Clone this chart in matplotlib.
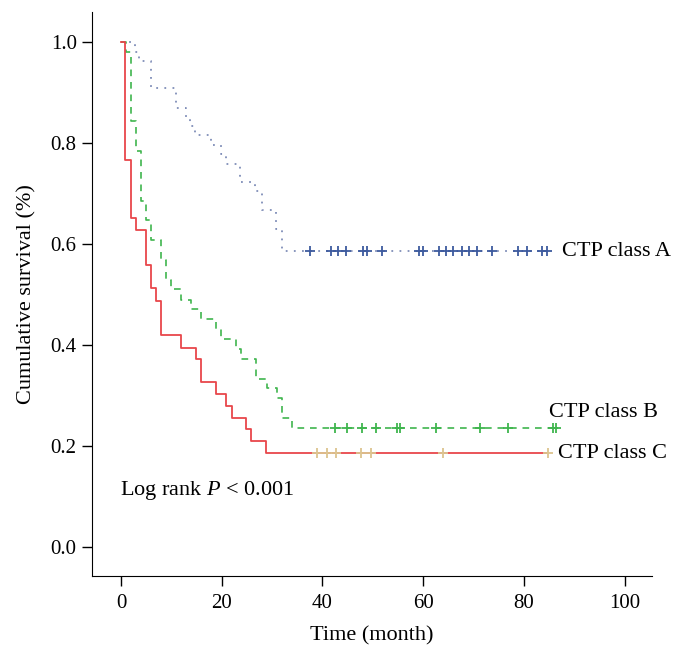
import matplotlib
matplotlib.use('Agg')
import matplotlib.pyplot as plt

plt.rcParams['font.family'] = ['Liberation Serif', 'DejaVu Serif']
plt.rcParams['mathtext.fontset'] = 'custom'
plt.rcParams['mathtext.it'] = 'Liberation Serif:italic'
plt.rcParams['mathtext.rm'] = 'Liberation Serif'

# Kaplan-Meier steps (time in months, survival)
a_time = [0, 2.8, 3.6, 5.9, 10.9, 12.9, 13.7, 14.7, 17.9, 19.8, 20.8, 23.6, 26.7, 27.9, 30.7, 31.9]
a_surv = [1.0, 0.981, 0.963, 0.909, 0.870, 0.852, 0.833, 0.815, 0.796, 0.778, 0.759, 0.722, 0.704, 0.667, 0.630, 0.586]
a_end = 84.7
a_cens = [37.6, 41.7, 43.1, 44.6, 48.1, 48.9, 51.9, 59.2, 60.0, 63.2, 64.6, 65.9,
          67.6, 69.1, 70.7, 73.7, 78.8, 80.5, 83.5, 84.5]

b_time = [0, 1.0, 1.9, 2.9, 3.9, 4.9, 5.9, 7.9, 8.9, 9.9, 11.9, 13.9, 15.9, 18.8, 19.8,
          22.8, 23.8, 26.9, 28.9, 30.9, 31.9, 33.9]
b_surv = [1.0, 0.980, 0.843, 0.784, 0.686, 0.647, 0.608, 0.569, 0.529, 0.510, 0.490, 0.471,
          0.451, 0.431, 0.412, 0.392, 0.373, 0.333, 0.314, 0.294, 0.255, 0.235]
b_end = 86.7
b_cens = [42.5, 44.8, 47.8, 50.7, 54.7, 55.4, 62.6, 71.2, 76.8, 85.8, 86.4]

c_time = [0, 0.8, 1.9, 2.9, 4.9, 5.9, 6.9, 7.9, 11.9, 14.9, 15.9, 18.8, 20.8, 22.0, 24.9, 25.9, 28.8]
c_surv = [1.0, 0.767, 0.651, 0.628, 0.558, 0.512, 0.488, 0.419, 0.395, 0.372, 0.326, 0.302,
          0.279, 0.256, 0.233, 0.209, 0.186]
c_end = 84.7
c_cens = [39.0, 40.9, 42.7, 47.6, 49.7, 63.9, 84.7]

xticks = [0, 20, 40, 60, 80, 100]
yticks = [0.0, 0.2, 0.4, 0.6, 0.8, 1.0]

blue = '#3d5a9e'
blue_line = '#7f8db8'
green = '#3fb54e'
red = '#e8464b'
tan = '#dcc48f'

fig = plt.figure(figsize=(6.8, 6.6), dpi=100)
ax = fig.add_axes([0.1353, 0.1277, 0.8235, 0.8545])


def km(ax, t, s, end, cens, color, ls, lw, mcolor):
    tt = list(t) + [end]
    ss = list(s) + [s[-1]]
    ax.step(tt, ss, where='post', color=color, linestyle=ls, linewidth=lw)
    ax.plot(cens, [s[-1]] * len(cens), linestyle='none', marker='+',
            markersize=7.5, markeredgewidth=1.3, color=mcolor)


km(ax, a_time, a_surv, a_end, a_cens, blue_line, (0, (1, 3.5)), 1.3, blue)
km(ax, b_time, b_surv, b_end, b_cens, green, (0, (4, 3.5)), 1.2, green)
km(ax, c_time, c_surv, c_end, c_cens, red, '-', 1.3, tan)

ax.text(87.5, a_surv[-1], 'CTP class A', fontsize=16, va='center', ha='left')
ax.text(84.9, 0.267, 'CTP class B', fontsize=16, va='center', ha='left')
ax.text(86.7, c_surv[-1], 'CTP class C', fontsize=16, va='center', ha='left')
ax.text(-0.2, 0.111, 'Log rank $\\mathit{P}$ < 0.001', fontsize=16, va='center', ha='left')

ax.set_xlim(-5.75, 105.4)
ax.set_ylim(-0.057, 1.06)
ax.set_xticks(xticks)
ax.set_yticks(yticks)
ax.set_yticklabels(['%.1f' % v for v in yticks])
ax.spines['top'].set_visible(False)
ax.spines['right'].set_visible(False)
ax.tick_params(direction='out', length=7, width=1, labelsize=15, pad=4)
ax.tick_params(axis='x', pad=6)
ax.set_xlabel('Time (month)', fontsize=16, labelpad=10)
ax.set_ylabel('Cumulative survival (%)', fontsize=16, labelpad=10)

plt.savefig('out.png', dpi=100)
